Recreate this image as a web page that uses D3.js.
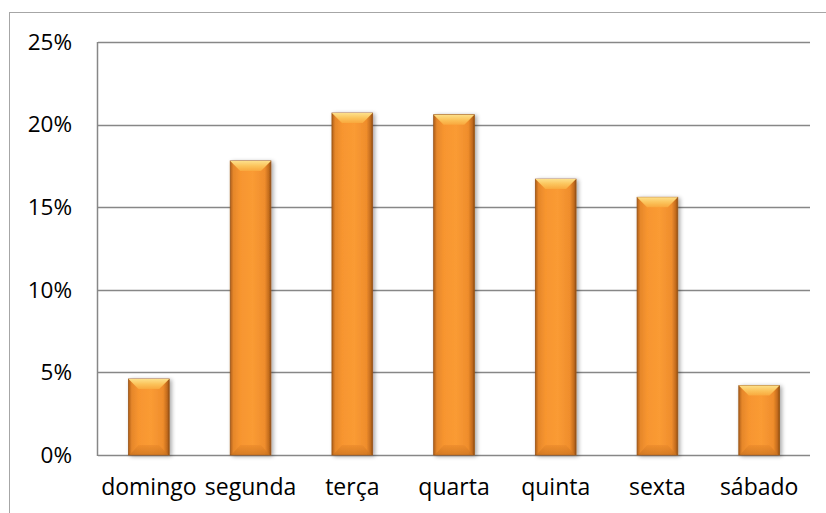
<!DOCTYPE html>
<html>
<head>
<meta charset="utf-8">
<script src="https://cdn.jsdelivr.net/npm/d3@7"></script>
<style>
  html, body { margin: 0; padding: 0; background: #fff; }
  svg { display: block; }
  text { font-family: "Open Sans", Lato, sans-serif; fill: #000; }
</style>
</head>
<body>
<svg id="chart" width="826" height="513"></svg>
<script>
const categories = ["domingo", "segunda", "terça", "quarta", "quinta", "sexta", "sábado"];
const values = [0.046, 0.178, 0.207, 0.206, 0.167, 0.156, 0.042];
const yTicks = [0, 0.05, 0.10, 0.15, 0.20, 0.25];

const svg = d3.select("#chart");
const W = 826, H = 513;
const margin = { left: 98, right: 16, top: 42, bottom: 58 };
const plotW = 810 - margin.left;
const plotH = 455 - margin.top;

// outer chart border
svg.append("rect")
  .attr("x", 9.5).attr("y", 12.5)
  .attr("width", W + 10).attr("height", H + 10)
  .attr("fill", "none").attr("stroke", "#a6a6a6").attr("stroke-width", 1);

const x = d3.scaleBand().domain(categories).range([margin.left, margin.left + plotW]).paddingInner(0.6).paddingOuter(0.3);
const y = d3.scaleLinear().domain([0, 0.25]).range([margin.top + plotH, margin.top]);

const defs = svg.append("defs");
const body = defs.append("linearGradient").attr("id", "barBody").attr("x1", "0").attr("x2", "1").attr("y1", "0").attr("y2", "0");
[[0, "#b05f19"], [0.08, "#e6872b"], [0.25, "#f7952f"], [0.55, "#fa9b34"], [0.85, "#ef8d2c"], [0.95, "#c26b1d"], [1, "#8f4d12"]]
  .forEach(([o, c]) => body.append("stop").attr("offset", o).attr("stop-color", c));
const topG = defs.append("linearGradient").attr("id", "barTop").attr("x1", "0").attr("x2", "0").attr("y1", "0").attr("y2", "1");
[[0, "#fde08a"], [0.5, "#fbc45c"], [1, "#f9a83d"]].forEach(([o, c]) => topG.append("stop").attr("offset", o).attr("stop-color", c));
const botG = defs.append("linearGradient").attr("id", "barBot").attr("x1", "0").attr("x2", "0").attr("y1", "0").attr("y2", "1");
[[0, "#ec8b2c"], [1, "#c8711f"]].forEach(([o, c]) => botG.append("stop").attr("offset", o).attr("stop-color", c));
const shadow = defs.append("filter").attr("id", "shadow").attr("x", "-30%").attr("y", "-10%").attr("width", "160%").attr("height", "120%");
shadow.append("feGaussianBlur").attr("in", "SourceAlpha").attr("stdDeviation", 2);
shadow.append("feOffset").attr("dx", 1.5).attr("dy", 0.5).attr("result", "b");
shadow.append("feComponentTransfer").append("feFuncA").attr("type", "linear").attr("slope", 0.35);
const merge = shadow.append("feMerge");
merge.append("feMergeNode");
merge.append("feMergeNode").attr("in", "SourceGraphic");

// gridlines
svg.append("g").selectAll("line").data(yTicks).join("line")
  .attr("x1", margin.left).attr("x2", margin.left + plotW)
  .attr("y1", d => Math.round(y(d)) + 0.5).attr("y2", d => Math.round(y(d)) + 0.5)
  .attr("stroke", "#878787").attr("stroke-width", 1.5);

// left axis line
svg.append("line")
  .attr("x1", margin.left - 0.5).attr("x2", margin.left - 0.5)
  .attr("y1", margin.top).attr("y2", y(0) + 1)
  .attr("stroke", "#878787").attr("stroke-width", 1.5);

// y axis labels
const yAxis = d3.axisLeft(y).tickValues(yTicks).tickSize(0).tickPadding(26).tickFormat(d3.format(".0%"));
const yg = svg.append("g").attr("transform", `translate(${margin.left},0)`).call(yAxis);
yg.select(".domain").remove();
yg.selectAll("text").style("font-family", "'Open Sans', Lato, sans-serif").attr("font-size", 22.5).attr("fill", "#000");

// x axis labels
const xAxis = d3.axisBottom(x).tickSize(0).tickPadding(24);
const xg = svg.append("g").attr("transform", `translate(0,${y(0)})`).call(xAxis);
xg.select(".domain").remove();
xg.selectAll("text").style("font-family", "'Open Sans', Lato, sans-serif").attr("font-size", 23).attr("fill", "#000");

// bars
const bev = 10;
const bars = svg.append("g").selectAll("g").data(categories.map((c, i) => ({ c, v: values[i] }))).join("g")
  .attr("filter", "url(#shadow)");
bars.append("rect")
  .attr("x", d => x(d.c)).attr("y", d => y(d.v))
  .attr("width", x.bandwidth()).attr("height", d => y(0) - y(d.v))
  .attr("fill", "url(#barBody)").attr("stroke", "#9a5515").attr("stroke-width", 0.8);
bars.append("path")
  .attr("d", d => {
    const x0 = x(d.c), x1 = x0 + x.bandwidth(), t = y(d.v);
    return `M${x0},${t} L${x1},${t} L${x1 - bev},${t + bev} L${x0 + bev},${t + bev} Z`;
  })
  .attr("fill", "url(#barTop)");
bars.append("path")
  .attr("d", d => {
    const x0 = x(d.c), x1 = x0 + x.bandwidth(), b = y(0);
    return `M${x0 + 1},${b} L${x1 - 1},${b} L${x1 - bev},${b - bev} L${x0 + bev},${b - bev} Z`;
  })
  .attr("fill", "url(#barBot)").attr("opacity", 0.7);
</script>
</body>
</html>
